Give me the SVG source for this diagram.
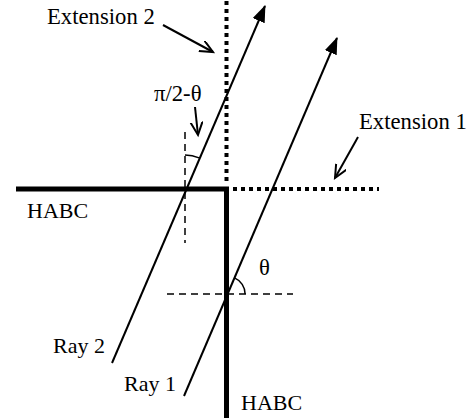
<svg xmlns="http://www.w3.org/2000/svg" width="475" height="418" viewBox="0 0 475 418">
<style>
text{font-family:"Liberation Serif","Times New Roman",serif;font-size:22px;fill:#000}
.big{font-size:22.7px}
.thick{stroke:#000;stroke-width:5;fill:none;stroke-linejoin:miter}
.dot{stroke:#000;stroke-width:4;stroke-dasharray:4 4;fill:none}
.dash{stroke:#000;stroke-width:1.5;stroke-dasharray:7 5;fill:none}
.ray{stroke:#000;stroke-width:2;fill:none}
.ptr{stroke:#000;stroke-width:2;fill:none}
.arc{stroke:#000;stroke-width:1.5;fill:none}
</style>
<defs>
<marker id="solid" markerUnits="userSpaceOnUse" markerWidth="20" markerHeight="14" refX="16" refY="6.5" orient="auto">
<path d="M0,0 L17,6.5 L0,13 z" fill="#000"/>
</marker>
<marker id="open" markerUnits="userSpaceOnUse" markerWidth="16" markerHeight="14" refX="13" refY="6" orient="auto">
<path d="M0,0 L13,6 L0,12" fill="none" stroke="#000" stroke-width="2"/>
</marker>
</defs>
<rect width="475" height="418" fill="#fff"/>
<g id="habc">
<path class="thick" d="M16,189 H226.5 V418"/>
<text x="27" y="218">HABC</text>
<text x="241" y="410">HABC</text>
</g>
<g id="extension2">
<line class="dot" x1="226.5" y1="1" x2="226.5" y2="185"/>
<text class="big" x="47" y="24">Extension 2</text>
</g>
<g id="extension1">
<line class="dot" x1="233" y1="189" x2="379" y2="189"/>
<text class="big" x="359" y="129">Extension 1</text>
</g>
<g id="normals">
<line class="dash" x1="185" y1="132" x2="185" y2="243"/>
<line class="dash" x1="167" y1="294" x2="293" y2="294"/>
</g>
<g id="ray2">
<line class="ray" x1="112" y1="363" x2="265" y2="6" marker-end="url(#solid)"/>
<text x="53" y="353">Ray 2</text>
</g>
<g id="ray1">
<line class="ray" x1="184" y1="396" x2="337" y2="38" marker-end="url(#solid)"/>
<text x="124" y="391">Ray 1</text>
</g>
<g id="angle-comp">
<path class="arc" d="M185,155 A36,36 0 0 1 199.1,157.9"/>
<text class="big" x="154" y="101">π/2-θ</text>
</g>
<g id="angle-theta">
<path class="arc" d="M234.5,277.9 A17.5,17.5 0 0 1 245.1,294"/>
<text class="big" x="259" y="275">θ</text>
</g>
<g id="connectors">
<line class="ptr" x1="163" y1="25" x2="213" y2="52" marker-end="url(#open)"/>
<line class="ptr" x1="195" y1="107" x2="198" y2="135" marker-end="url(#open)"/>
<line class="ptr" x1="358" y1="137" x2="335" y2="178" marker-end="url(#open)"/>
</g>
</svg>
